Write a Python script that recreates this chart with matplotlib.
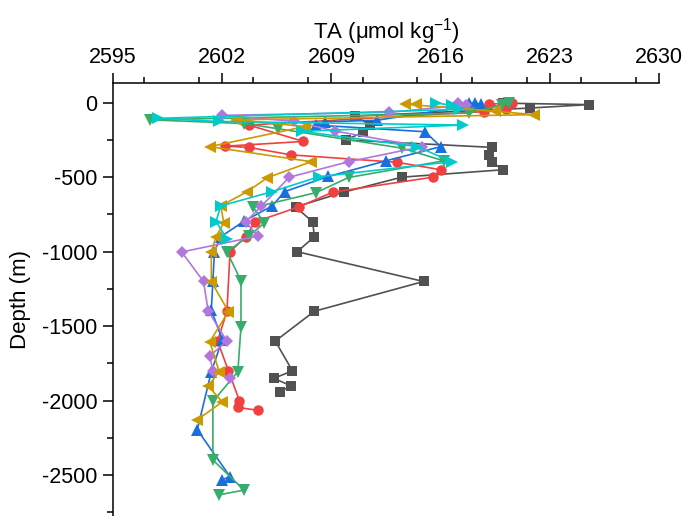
import matplotlib
matplotlib.use('Agg')
import matplotlib.pyplot as plt
from matplotlib.ticker import MultipleLocator

plt.rcParams['font.family'] = ['Liberation Sans', 'DejaVu Sans']
plt.rcParams['mathtext.fontset'] = 'custom'
plt.rcParams['mathtext.rm'] = 'Liberation Sans'
plt.rcParams['mathtext.default'] = 'regular'
plt.rcParams['axes.unicode_minus'] = False

# station profiles: TA (umol/kg) vs depth (m)
gray_ta = [2620.0, 2625.5, 2621.7, 2610.5, 2611.5, 2611.0, 2609.9, 2619.3, 2619.1, 2619.3,
           2620.0, 2613.5, 2609.8, 2606.7, 2607.8, 2607.9, 2606.8, 2614.9, 2607.9, 2605.4,
           2606.5, 2605.3, 2606.4, 2605.7]
gray_z = [-3, -13, -36, -90, -150, -200, -250, -300, -350, -400,
          -450, -500, -600, -700, -800, -900, -1000, -1200, -1400, -1600,
          -1800, -1850, -1900, -1940]

red_ta = [2620.6, 2619.1, 2620.2, 2618.8, 2603.7, 2607.2, 2602.2, 2603.7, 2606.4, 2613.2,
          2616.0, 2615.5, 2609.1, 2606.9, 2604.1, 2603.5, 2602.5, 2602.3, 2601.7, 2602.4,
          2603.1, 2603.0, 2604.3]
red_z = [-2, -10, -40, -60, -150, -260, -292, -300, -350, -400,
         -450, -500, -600, -700, -800, -900, -1000, -1400, -1600, -1800,
         -2000, -2045, -2065]

blue_ta = [2617.8, 2618.2, 2618.6, 2611.9, 2608.6, 2608.0, 2615.0, 2616.0, 2612.5, 2608.8,
           2606.0, 2605.2, 2603.4, 2601.9, 2601.5, 2601.4, 2601.3, 2602.0, 2601.3, 2600.4,
           2602.5, 2602.0]
blue_z = [0, -5, -10, -118, -128, -150, -195, -295, -390, -495,
          -597, -693, -795, -900, -1000, -1200, -1390, -1592, -1805, -2195,
          -2510, -2530]

green_ta = [2620.4, 2619.9, 2617.8, 2597.4, 2603.4, 2605.6, 2613.5, 2616.2, 2610.1, 2608.0,
            2604.0, 2604.7, 2603.7, 2602.3, 2603.2, 2603.2, 2603.0, 2601.4, 2601.4, 2603.4,
            2601.8]
green_z = [-2, -17, -70, -115, -140, -175, -305, -390, -502, -604,
           -703, -808, -895, -1000, -1195, -1505, -1805, -2005, -2398, -2600,
           -2632]

purple_ta = [2617.1, 2617.6, 2612.7, 2602.0, 2606.6, 2609.2, 2614.8, 2610.1, 2606.3, 2604.5,
             2603.5, 2604.3, 2599.4, 2600.8, 2601.1, 2602.3, 2601.2, 2601.4, 2602.5]
purple_z = [0, -15, -65, -85, -125, -190, -295, -396, -500, -695,
            -800, -895, -1002, -1200, -1398, -1600, -1700, -1800, -1850]

gold_ta = [2614.4, 2613.7, 2619.5, 2622.0, 2602.9, 2607.3, 2601.2, 2607.7, 2604.9, 2603.6,
           2601.9, 2602.1, 2601.6, 2601.3, 2601.3, 2602.4, 2601.2, 2601.8, 2601.1, 2602.0,
           2600.4]
gold_z = [-9, -10, -58, -80, -115, -160, -295, -396, -503, -597,
          -693, -805, -900, -1002, -1201, -1402, -1604, -1805, -1901, -2008,
          -2129]

cyan_ta = [2615.7, 2616.7, 2617.2, 2597.9, 2601.8, 2617.4, 2607.1, 2614.5, 2616.7, 2608.2,
           2605.2, 2601.9, 2601.6, 2602.3]
cyan_z = [-2, -17, -45, -105, -126, -150, -192, -295, -396, -497,
          -597, -693, -798, -912]

series = [
    (gray_ta, gray_z, '#515151', 's', 6.5),
    (red_ta, red_z, '#F14040', 'o', 7.5),
    (blue_ta, blue_z, '#1A6FDF', '^', 8.5),
    (green_ta, green_z, '#37AD6B', 'v', 8.5),
    (purple_ta, purple_z, '#B177DE', 'D', 6.5),
    (gold_ta, gold_z, '#CC9900', '<', 8.5),
    (cyan_ta, cyan_z, '#00CBCC', '>', 8.5),
]

fig = plt.figure(figsize=(6.87, 5.16), dpi=100)
ax = fig.add_axes([0.1645, 0.0, 0.795, 0.8391])

for ta, z, c, m, ms in series:
    ax.plot(ta, z, color=c, marker=m, markersize=ms, linewidth=1.2,
            markeredgewidth=0)

ax.set_xlim(2595, 2630)
ax.set_ylim(-2774, 132)
ax.xaxis.tick_top()
ax.xaxis.set_label_position('top')
ax.set_xticks([2595, 2602, 2609, 2616, 2623, 2630])
ax.xaxis.set_minor_locator(MultipleLocator(3.5))
ax.set_yticks([0, -500, -1000, -1500, -2000, -2500])
ax.yaxis.set_minor_locator(MultipleLocator(250))

ax.spines['right'].set_visible(False)
ax.spines['bottom'].set_visible(False)
for s in ['top', 'left']:
    ax.spines[s].set_linewidth(1.1)

ax.tick_params(which='major', direction='out', length=7, width=1.1, labelsize=15.5)
ax.tick_params(which='minor', direction='out', length=4, width=1.1)
ax.tick_params(axis='x', which='both', top=True, bottom=False, pad=4)
ax.tick_params(axis='y', which='both', right=False, pad=4)

ax.set_xlabel('TA (μmol kg$^{-1}$)', fontsize=16, labelpad=6)
ax.set_ylabel('Depth (m)', fontsize=16)
ax.yaxis.set_label_coords(-0.15, 0.5)

fig.savefig('out.png', dpi=100)
